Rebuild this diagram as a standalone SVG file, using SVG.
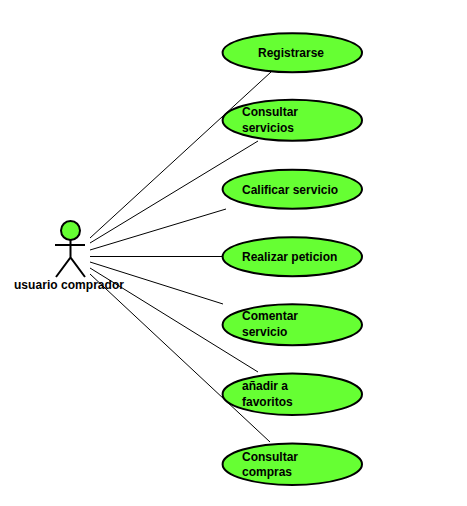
<svg xmlns="http://www.w3.org/2000/svg" width="467" height="506" viewBox="0 0 467 506">
<style>
.c{stroke:#000;stroke-width:1;fill:none}
.a{stroke:#000;stroke-width:2;fill:none}
ellipse,.h{fill:#66ff33;stroke:#000;stroke-width:2}
text{font-family:"Liberation Sans",Arial,sans-serif;font-size:12px;font-weight:bold;fill:#000}
</style>
<rect width="467" height="506" fill="#fff"/>
<g id="connectors">
<line class="c" x1="90" y1="238" x2="271" y2="72"/>
<line class="c" x1="90" y1="243" x2="258" y2="141"/>
<line class="c" x1="90" y1="250" x2="226" y2="209"/>
<line class="c" x1="90" y1="256.500" x2="222" y2="256.500"/>
<line class="c" x1="90" y1="262" x2="223" y2="304"/>
<line class="c" x1="90" y1="268" x2="258" y2="372"/>
<line class="c" x1="90" y1="274" x2="270" y2="442"/>
</g>
<g id="actor">
<circle class="h" cx="70.500" cy="230.500" r="9.500"/>
<path class="a" d="M55 245H85M70.500 240V257.500M56 277L70.500 257.500L85 277"/>
<text x="14" y="289" textLength="110">usuario comprador</text>
</g>
<g id="uc1"><ellipse cx="292.300" cy="52.700" rx="69.700" ry="19.500"/><text x="258" y="57">Registrarse</text></g>
<g id="uc2"><ellipse cx="292.300" cy="120.200" rx="69.700" ry="20.500"/><text x="242" y="116">Consultar</text><text x="242" y="132">servicios</text></g>
<g id="uc3"><ellipse cx="292.300" cy="189.200" rx="69.700" ry="19.500"/><text x="242" y="194">Calificar servicio</text></g>
<g id="uc4"><ellipse cx="292.300" cy="256.700" rx="69.700" ry="19.500"/><text x="242" y="261">Realizar peticion</text></g>
<g id="uc5"><ellipse cx="292.300" cy="324.700" rx="69.700" ry="20.500"/><text x="242" y="320">Comentar</text><text x="242" y="336">servicio</text></g>
<g id="uc6"><ellipse cx="292.300" cy="394.200" rx="69.700" ry="20.800"/><text x="242" y="390">añadir a</text><text x="242" y="406">favoritos</text></g>
<g id="uc7"><ellipse cx="292.300" cy="464.200" rx="69.700" ry="20.800"/><text x="242" y="461">Consultar</text><text x="242" y="476">compras</text></g>
</svg>
